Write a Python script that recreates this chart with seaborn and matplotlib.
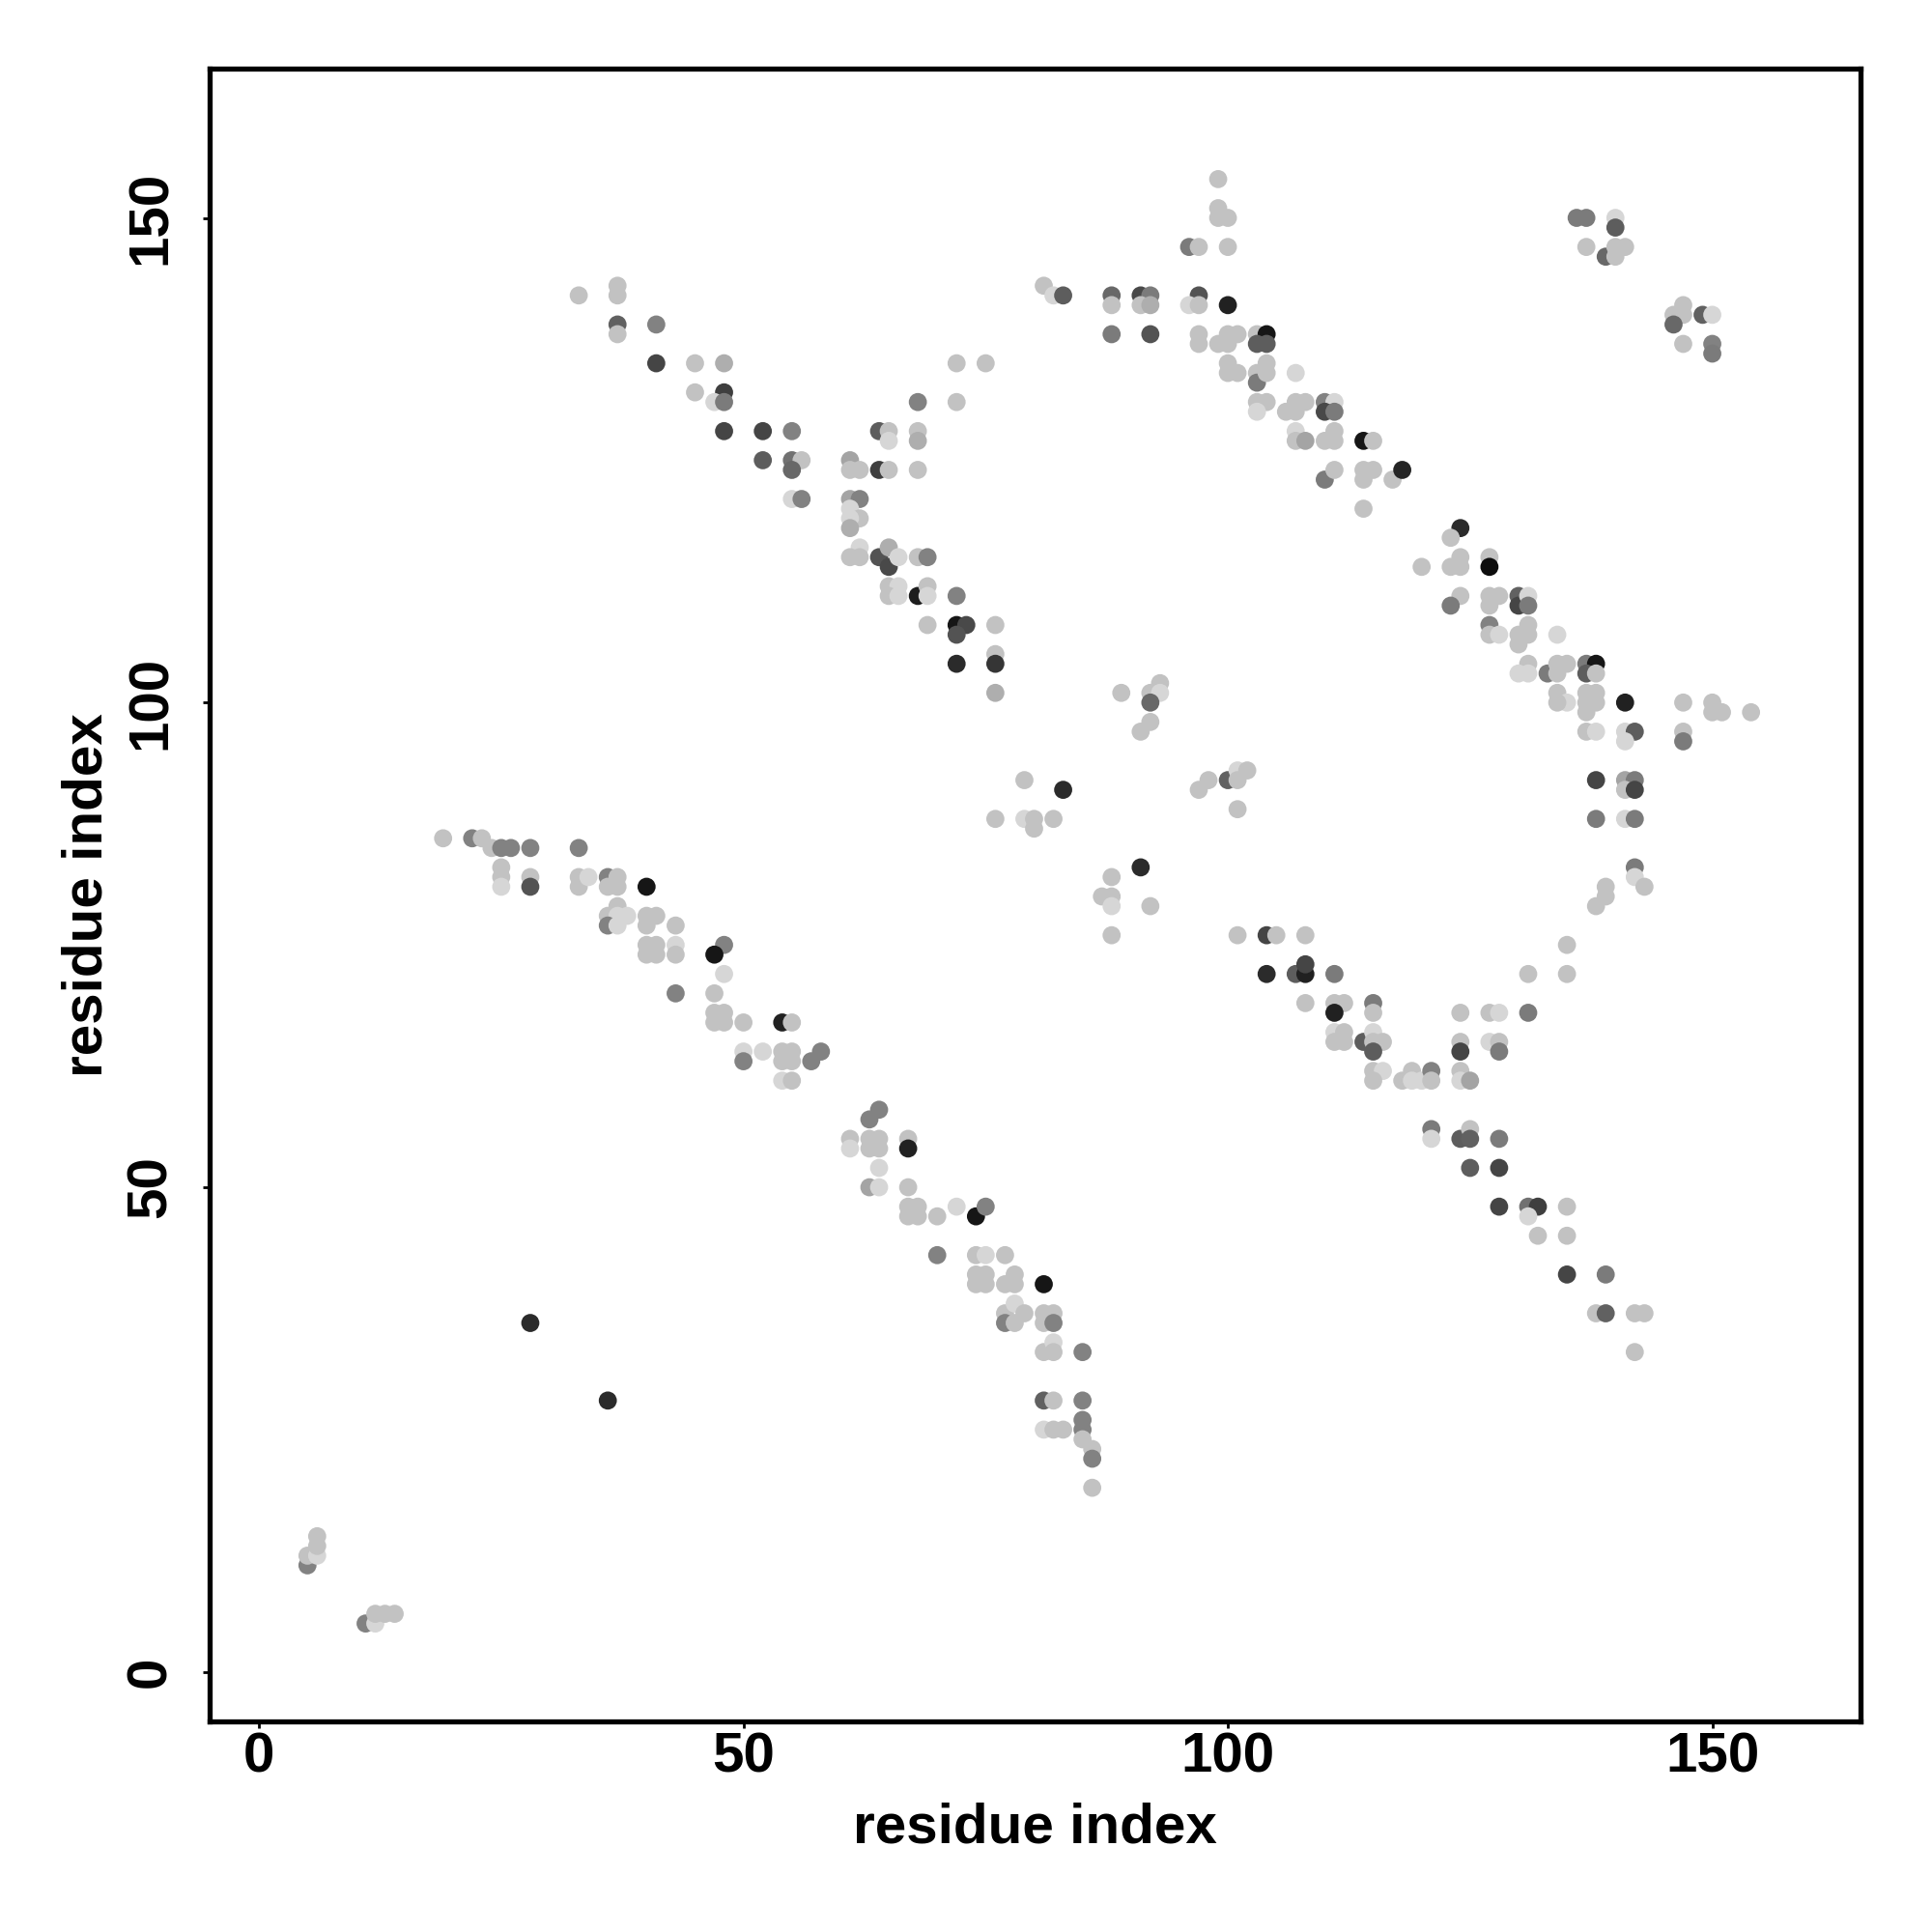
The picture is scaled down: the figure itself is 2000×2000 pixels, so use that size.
import matplotlib
matplotlib.use("Agg")
import matplotlib.pyplot as plt
from matplotlib.colors import LinearSegmentedColormap
import pandas as pd
import seaborn as sns

# contacts: residue i, residue j, shade (0 = light grey, 1 = black)

# small clusters near the origin + two isolated contacts
i_A = [5, 5, 6, 6, 6, 11, 12, 12, 13, 14, 28, 36]
j_A = [11, 12, 12, 13, 14, 5, 5, 6, 6, 6, 36, 28]
w_A = [.42, .1, 0, .1, .1, .42, 0, .1, .1, .1, .85, .85]

# lower anti-diagonal, first half
i_B = [19, 22, 23, 24, 25, 26, 28, 33, 25, 25, 25, 28, 28, 33, 33, 34, 36, 37, 36, 37, 40,
       37, 36, 37, 38, 36, 37, 40, 41, 40, 43, 40, 41, 40, 41, 43, 43, 48, 47, 48, 43, 47,
       47, 48, 47, 48, 50, 54, 55, 50, 50, 52, 54, 55, 54, 55, 54, 55, 57, 58]
j_B = [86, 86, 86, 85, 85, 85, 85, 85, 83, 82, 81, 82, 81, 82, 81, 82, 82, 82, 81, 81, 81,
       79, 78, 78, 78, 77, 77, 78, 78, 77, 77, 75, 75, 74, 74, 75, 74, 75, 74, 72, 70, 70,
       68, 68, 67, 67, 67, 67, 67, 64, 63, 64, 64, 64, 63, 63, 61, 61, 63, 64]
w_B = [.1, .42, .1, .1, .42, .42, .42, .42, .1, .1, 0, .1, .65, .1, .1, 0, .42, .1, .1, .1, .95,
       .1, .1, 0, 0, .42, 0, .1, .1, .1, .1, .1, .1, .1, .1, 0, .1, .42, .95, 0, .42, .1,
       .1, .1, .1, .1, .1, .9, .1, 0, .42, 0, .1, .1, .1, .1, 0, .1, .42, .42]

# lower anti-diagonal, second half
i_C = [63, 64, 61, 61, 63, 64, 63, 64, 67, 67, 64, 63, 64, 67, 67, 68, 67, 68, 70, 72, 74, 75,
       70, 74, 75, 77, 74, 75, 74, 75, 77, 78, 78, 81, 77, 78, 79, 77, 78, 81, 82, 81, 82,
       81, 82, 82, 85, 81, 82, 85, 81, 82, 83, 85, 85, 85, 86, 86, 86]
j_C = [57, 58, 55, 54, 55, 55, 54, 54, 55, 54, 52, 50, 50, 50, 48, 48, 47, 47, 47, 48, 47, 48,
       43, 43, 43, 43, 41, 41, 40, 40, 40, 41, 40, 40, 37, 38, 37, 36, 36, 37, 37, 36, 36,
       33, 34, 33, 33, 28, 28, 28, 25, 25, 25, 26, 25, 24, 23, 22, 19]
w_C = [.42, .42, .1, 0, .1, .1, .1, .1, .1, .9, 0, .25, 0, .1, .1, .1, .1, .1, .1, 0, .95, .42,
       .42, .1, 0, .1, .1, .1, .1, .1, .1, .1, .1, .95, .1, 0, .1, .42, .1, .1, .1, .1, .42,
       .1, 0, .1, .42, .58, .1, .42, 0, .1, .1, .42, .42, .1, .1, .42, .1]

# upper anti-diagonal, left part
i_D = [33, 37, 37, 37, 37, 41, 41, 45, 48, 45, 48, 47, 48, 48, 52, 55, 52, 55, 56, 55,
       55, 56, 61, 62, 61, 61, 62, 61, 62, 61, 61, 62, 61, 62]
j_D = [142, 143, 142, 139, 138, 139, 135, 135, 135, 132, 132, 131, 131, 128, 128, 128, 125, 125, 125, 124,
       121, 121, 125, 124, 124, 121, 121, 120, 119, 119, 118, 116, 115, 115]
w_D = [.1, .1, .1, .58, .1, .42, .72, .1, .2, .1, .75, 0, .45, .72, .72, .42, .6, .5, .1, .55,
       0, .42, .25, .1, .1, .25, .42, 0, .1, 0, .2, 0, .1, .1]

i_E = [72, 75, 68, 72, 64, 65, 65, 68, 68, 64, 65, 68, 64, 65, 65, 66, 68, 69,
       65, 66, 65, 66, 68, 69, 69, 72, 69, 72, 73, 72, 76, 72, 76, 76, 76,
       89, 92, 93, 93, 92, 92, 91]
j_E = [135, 135, 131, 131, 128, 128, 127, 128, 127, 124, 124, 124, 115, 116, 114, 115, 115, 115,
       112, 112, 111, 111, 111, 112, 111, 111, 108, 108, 108, 107, 108, 104, 105, 104, 101,
       101, 101, 102, 101, 100, 98, 97]
w_E = [.1, .1, .42, .1, .6, .1, 0, .1, .2, .75, .1, .1, .65, .2, .7, 0, .1, .42,
       .1, 0, .1, 0, .92, .1, 0, .42, .1, .95, .7, .65, .1, .85, .1, .8, .2,
       .1, .1, .1, 0, .55, .1, .1]

# scattered contacts in the middle
i_F = [79, 83, 76, 79, 80, 80, 82, 88, 87, 88, 88, 88, 91, 92, 97, 98, 100, 101, 102, 101, 101, 101]
j_F = [92, 91, 88, 88, 88, 87, 88, 82, 80, 80, 79, 76, 83, 79, 91, 92, 92, 93, 93, 92, 89, 76]
w_F = [.1, .85, .1, 0, .1, .1, .1, .1, .1, .1, 0, .1, .85, .1, .1, .1, .58, 0, .1, .1, .1, .1]

# top of the upper diagonal
i_G = [99, 99, 100, 99, 96, 97, 100, 81, 82, 83, 88, 88, 91, 92, 91, 92, 97, 96, 97, 100, 88, 92,
       97, 97, 99, 100, 101, 100, 103, 104, 103, 104, 100, 101, 100, 103, 104, 103, 104, 107,
       103, 104, 103, 106, 107, 107, 108]
j_G = [154, 151, 150, 150, 147, 147, 147, 143, 142, 142, 142, 141, 142, 142, 141, 141, 142, 141, 141, 141, 138, 138,
       138, 137, 137, 138, 138, 137, 138, 138, 137, 137, 135, 134, 134, 134, 135, 133, 134, 134,
       131, 131, 130, 130, 131, 130, 131]
w_G = [.1, .1, .1, .1, .45, .1, .1, .1, 0, .6, .55, .1, .7, .45, .1, .2, .65, 0, .1, .9, .45, .65,
       .1, .1, .1, .1, .1, .1, .1, .95, .6, .6, .1, .1, .1, .1, .1, .45, .1, 0,
       .1, .1, 0, .1, .1, .1, .1]

# upper diagonal running down to the right
i_H = [110, 111, 110, 111, 107, 107, 108, 110, 111, 111, 114, 115, 110, 111, 114, 115, 114, 117, 118,
       114, 124, 123, 120, 123, 124, 124, 127, 127, 124, 123, 127, 128, 127, 130, 130, 131, 131,
       127, 127, 128, 130, 131, 130, 131, 134, 131, 130, 131, 133, 134, 134, 135, 137, 138, 137, 138,
       134, 135, 134, 137, 138, 137, 138, 137, 141, 147, 150, 151, 150, 154]
j_H = [131, 131, 130, 130, 128, 127, 127, 127, 128, 127, 127, 127, 123, 124, 124, 124, 123, 123, 124,
       120, 118, 117, 114, 114, 115, 114, 115, 114, 111, 110, 111, 111, 110, 111, 110, 111, 110,
       108, 107, 107, 107, 108, 106, 107, 107, 104, 103, 103, 103, 104, 103, 104, 104, 104, 103, 103,
       101, 100, 100, 101, 101, 100, 100, 99, 100, 100, 100, 99, 99, 99]
w_H = [.42, 0, .7, .45, 0, .1, .25, .1, .1, .1, .95, .1, .45, .1, .1, .1, .1, .1, .88,
       .1, .85, .1, .1, .1, .1, .1, .1, 1.0, .1, .45, .1, .1, .1, .58, .72, 0, .45,
       .42, .1, 0, .1, .1, .1, .1, 0, .1, 0, 0, .45, .1, .1, .1, .45, .95, .6, .1,
       .1, 0, .1, .1, .1, .1, .1, .1, .9, .1, .1, .1, .1, .1]

# top right clusters
i_I = [136, 137, 140, 140, 137, 139, 140, 141, 140, 147, 146, 147, 146, 149, 150, 147, 150, 150]
j_I = [150, 150, 150, 149, 147, 146, 147, 147, 146, 141, 140, 140, 139, 140, 140, 137, 137, 136]
w_I = [.45, .45, 0, .6, .1, .55, .1, .1, .1, .1, .1, .1, .55, .58, 0, .1, .42, .45]

# right hand vertical strip
i_J = [137, 138, 141, 142, 141, 147, 147, 138, 141, 142, 141, 142, 138, 141, 142,
       142, 142, 143, 139, 139, 138, 135, 135, 131]
j_J = [97, 97, 97, 97, 96, 97, 96, 92, 92, 92, 91, 91, 88, 88, 88,
       83, 82, 81, 81, 80, 79, 75, 72, 72]
w_J = [.1, 0, 0, .6, 0, .1, .45, .72, .25, .45, .1, .72, .45, 0, .45,
       .45, 0, .1, .1, .1, .1, .1, .1, .1]

# lower right diagonal
i_K = [104, 105, 108, 104, 107, 108, 108, 111, 108, 111, 112, 111, 115, 115,
       111, 112, 111, 112, 114, 115, 116, 115, 115, 115, 116, 115, 118, 119, 119, 120, 121, 121,
       124, 124, 125, 124, 127, 128, 131, 124, 124, 127, 128, 128, 121, 121, 124, 125, 125, 128,
       125, 128, 128, 131, 132, 131, 135, 132, 135, 135, 139, 138, 139, 142, 143, 142]
j_K = [76, 76, 76, 72, 72, 72, 73, 72, 69, 69, 69, 68, 69, 68,
       66, 66, 65, 65, 65, 66, 65, 65, 64, 62, 62, 61, 61, 62, 61, 61, 62, 61,
       62, 61, 61, 68, 68, 68, 68, 65, 64, 65, 65, 64, 56, 55, 55, 56, 55, 55,
       52, 52, 48, 48, 48, 47, 48, 45, 45, 41, 41, 37, 37, 37, 37, 33]
w_K = [.72, .1, .1, .85, .6, .9, .72, .45, .1, .1, .1, .9, .45, .1,
       0, .1, .1, .1, .6, 0, .1, .1, .6, .1, 0, .1, .1, .1, 0, 0, .42, .1,
       .1, 0, .25, .1, .1, 0, .45, .1, .72, 0, .1, .45, .45, 0, .6, .1, .58, .45,
       .6, .72, .72, .5, .75, 0, .1, .1, .1, .72, .45, .1, .58, .1, .1, .1]

res_i = i_A + i_B + i_C + i_D + i_E + i_F + i_G + i_H + i_I + i_J + i_K
res_j = j_A + j_B + j_C + j_D + j_E + j_F + j_G + j_H + j_I + j_J + j_K
shade = w_A + w_B + w_C + w_D + w_E + w_F + w_G + w_H + w_I + w_J + w_K
assert len(res_i) == len(res_j) == len(shade)

df = pd.DataFrame({"i": res_i, "j": res_j, "w": shade})

sns.set_theme(style="white")
plt.rcParams["font.family"] = ["Liberation Sans", "DejaVu Sans"]
plt.rcParams["font.weight"] = "bold"
plt.rcParams["text.color"] = "black"
plt.rcParams["axes.labelcolor"] = "black"

fig, ax = plt.subplots(figsize=(20, 20), dpi=100)
fig.subplots_adjust(left=0.1085, right=0.963, bottom=0.109, top=0.9645)

greys = LinearSegmentedColormap.from_list("contact_grey", ["#d6d6d6", "#0d0d0d"])
sns.scatterplot(data=df, x="i", y="j", hue="w", palette=greys, hue_norm=(0, 1),
                s=182, linewidth=0, legend=False, ax=ax)

ax.set_xlim(-5.1, 165.3)
ax.set_ylim(-5.1, 165.4)
ax.set_xticks([0, 50, 100, 150])
ax.set_yticks([0, 50, 100, 150])
ax.tick_params(axis="both", which="major", bottom=True, left=True, direction="out",
               length=5, width=2, colors="black", labelsize=42)
ax.tick_params(axis="x", pad=2.5)
ax.tick_params(axis="y", pad=19)
plt.setp(ax.get_xticklabels(), fontweight="bold")
plt.setp(ax.get_yticklabels(), fontweight="bold", rotation=90, va="center")

ax.set_xlabel("residue index", fontsize=42, fontweight="bold", labelpad=14)
ax.set_ylabel("residue index", fontsize=42, fontweight="bold", labelpad=9)

for sp in ax.spines.values():
    sp.set_visible(True)
    sp.set_linewidth(3.8)
    sp.set_color("black")

fig.savefig("out.png", dpi=100, facecolor="white")
